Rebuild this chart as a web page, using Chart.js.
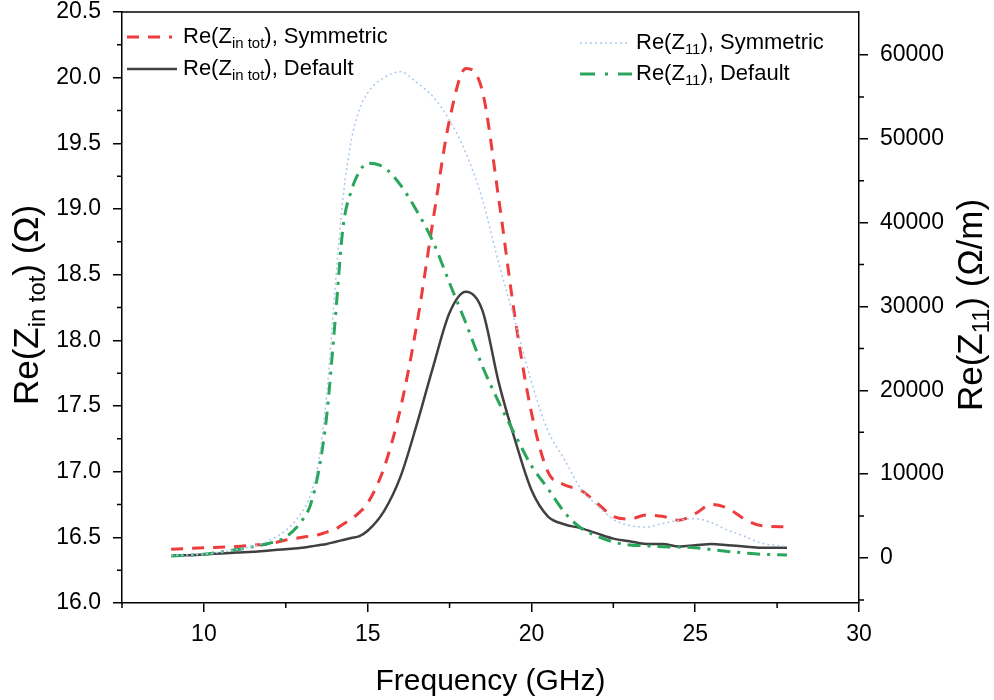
<!DOCTYPE html>
<html>
<head>
<meta charset="utf-8">
<script src="https://cdn.jsdelivr.net/npm/chart.js@4"></script>
<style>
  html, body { margin: 0; padding: 0; background: #fff; }
  #wrap { width: 994px; height: 700px; }
</style>
</head>
<body>
<div id="wrap"><canvas id="chart"></canvas></div>
<script>
// Frequency points (GHz), shared by all four curves
const freq = [9, 10, 11, 11.5, 12, 12.5, 13, 13.25, 13.5, 13.75, 14, 14.25, 14.5, 14.75, 15, 15.5, 16, 16.5, 17, 17.5,
              18, 18.5, 19, 19.5, 20, 20.5, 21, 21.5, 22, 22.5, 23, 23.5, 24, 24.5, 25, 25.5, 26, 26.5, 27, 27.8];

// Re(Z_in tot) in ohm (left axis)
const zinSym = [16.41, 16.42, 16.43, 16.44, 16.45, 16.48, 16.50, 16.51, 16.52, 16.54, 16.56, 16.60, 16.64, 16.69, 16.76, 17.03, 17.48, 18.12, 18.92, 19.68,
                20.07, 19.90, 19.08, 18.17, 17.45, 17.00, 16.90, 16.86, 16.76, 16.66, 16.64, 16.67, 16.66, 16.63, 16.68, 16.75, 16.72, 16.64, 16.59, 16.58];
const zinDef = [16.36, 16.37, 16.385, 16.39, 16.40, 16.41, 16.42, 16.43, 16.44, 16.45, 16.465, 16.48, 16.495, 16.51, 16.55, 16.70, 16.96, 17.36, 17.80, 18.21,
                18.37, 18.23, 17.68, 17.24, 16.86, 16.66, 16.60, 16.57, 16.53, 16.49, 16.47, 16.45, 16.45, 16.43, 16.44, 16.45, 16.44, 16.43, 16.42, 16.42];

// Re(Z_11) in ohm/m (right axis)
const z11Sym = [300, 450, 1000, 1400, 2100, 3300, 5500, 7500, 11500, 19500, 32000, 43000, 49800, 53500, 55500, 57300, 58000, 56700, 55000, 52200,
                48300, 42800, 35200, 28200, 21000, 15200, 11800, 8300, 6300, 4600, 3900, 3700, 4100, 4500, 4700, 4200, 3300, 2600, 1800, 1350];
const z11Def = [250, 450, 1000, 1350, 1750, 2500, 4500, 6300, 10300, 17000, 28000, 39500, 43800, 46100, 47100, 46600, 44500, 41400, 37700, 32800,
                28000, 22900, 18600, 14700, 11000, 8300, 5500, 3600, 2600, 1900, 1550, 1450, 1350, 1300, 1230, 1000, 780, 600, 450, 360];

// Tick values
const xTicks = [10, 15, 20, 25, 30];
const xMinor = [7.5, 12.5, 17.5, 22.5, 27.5];
const yLeftTicks = [16, 16.5, 17, 17.5, 18, 18.5, 19, 19.5, 20, 20.5];
const yLeftMinor = [16.25, 16.75, 17.25, 17.75, 18.25, 18.75, 19.25, 19.75, 20.25];
const yRightTicks = [0, 10000, 20000, 30000, 40000, 50000, 60000];
const yRightMinor = [-5000, 5000, 15000, 25000, 35000, 45000, 55000];

const FONT = "'Liberation Sans', Arial, sans-serif";
const RED = '#ee3b3b';
const BLACK = '#404040';
const BLUE = '#a9c8ef';
const GREEN = '#2aa55c';

const DASH_RED = [12, 9];
const DASH_BLUE = [2, 3];
const DASH_GREEN = [13, 7, 3, 7];

function pts(ys) {
    return freq.map((f, i) => ({ x: f, y: ys[i] }));
}

function drawRich(ctx, parts, x, y, size) {
    let cx = x;
    parts.forEach(p => {
        const s = p.sub ? size * 0.68 : size;
        ctx.font = s + 'px ' + FONT;
        ctx.fillText(p.t, cx, p.sub ? y + size * 0.3 : y);
        cx += ctx.measureText(p.t).width;
    });
    return cx - x;
}

function richWidth(ctx, parts, size) {
    let w = 0;
    parts.forEach(p => {
        ctx.font = (p.sub ? size * 0.68 : size) + 'px ' + FONT;
        w += ctx.measureText(p.t).width;
    });
    return w;
}

const legendItems = [
    { x: 127, y: 37, len: 45, color: RED, width: 3, dash: DASH_RED, parts: [{ t: 'Re(Z' }, { t: 'in tot', sub: true }, { t: '), Symmetric' }] },
    { x: 127, y: 69, len: 50, color: BLACK, width: 2.5, dash: [], parts: [{ t: 'Re(Z' }, { t: 'in tot', sub: true }, { t: '), Default' }] },
    { x: 580, y: 43, len: 47, color: BLUE, width: 1.5, dash: DASH_BLUE, parts: [{ t: 'Re(Z' }, { t: '11', sub: true }, { t: '), Symmetric' }] },
    { x: 580, y: 74, len: 52, color: GREEN, width: 3, dash: [15, 10, 3, 10], parts: [{ t: 'Re(Z' }, { t: '11', sub: true }, { t: '), Default' }] }
];

const decorPlugin = {
    id: 'decor',
    afterDraw(chart) {
        const { ctx, chartArea: a, scales } = chart;
        ctx.save();
        ctx.strokeStyle = '#000';
        ctx.lineWidth = 1.5;
        ctx.setLineDash([]);

        // top frame line
        ctx.beginPath();
        ctx.moveTo(a.left, a.top);
        ctx.lineTo(a.right, a.top);
        ctx.stroke();

        // minor ticks
        ctx.beginPath();
        xMinor.forEach(v => {
            const px = scales.x.getPixelForValue(v);
            ctx.moveTo(px, a.bottom);
            ctx.lineTo(px, a.bottom + 5);
        });
        yLeftMinor.forEach(v => {
            const py = scales.y.getPixelForValue(v);
            ctx.moveTo(a.left, py);
            ctx.lineTo(a.left - 5, py);
        });
        yRightMinor.forEach(v => {
            const py = scales.y1.getPixelForValue(v);
            ctx.moveTo(a.right, py);
            ctx.lineTo(a.right + 5, py);
        });
        ctx.stroke();

        // legends
        ctx.fillStyle = '#000';
        ctx.textBaseline = 'middle';
        ctx.textAlign = 'left';
        legendItems.forEach(it => {
            ctx.strokeStyle = it.color;
            ctx.lineWidth = it.width;
            ctx.setLineDash(it.dash);
            ctx.beginPath();
            ctx.moveTo(it.x, it.y);
            ctx.lineTo(it.x + it.len, it.y);
            ctx.stroke();
            ctx.setLineDash([]);
            drawRich(ctx, it.parts, it.x + 56, it.y, 22);
        });

        // rotated axis titles
        const leftTitle = [{ t: 'Re(Z' }, { t: 'in tot', sub: true }, { t: ') (Ω)' }];
        const rightTitle = [{ t: 'Re(Z' }, { t: '11', sub: true }, { t: ') (Ω/m)' }];
        [[leftTitle, 28, 305], [rightTitle, 972, 305]].forEach(([parts, cx, cy]) => {
            ctx.save();
            ctx.translate(cx, cy);
            ctx.rotate(-Math.PI / 2);
            const w = richWidth(ctx, parts, 35);
            drawRich(ctx, parts, -w / 2, 0, 35);
            ctx.restore();
        });
        ctx.restore();
    }
};

const tickFont = { family: FONT, size: 23 };

new Chart(document.getElementById('chart'), {
    type: 'line',
    data: {
        datasets: [
            { label: 'Re(Z11), Symmetric', data: pts(z11Sym), yAxisID: 'y1', borderColor: BLUE, borderWidth: 1.5, borderDash: DASH_BLUE },
            { label: 'Re(Z11), Default', data: pts(z11Def), yAxisID: 'y1', borderColor: GREEN, borderWidth: 3, borderDash: DASH_GREEN },
            { label: 'Re(Zin tot), Symmetric', data: pts(zinSym), yAxisID: 'y', borderColor: RED, borderWidth: 3, borderDash: DASH_RED },
            { label: 'Re(Zin tot), Default', data: pts(zinDef), yAxisID: 'y', borderColor: BLACK, borderWidth: 2.5 }
        ]
    },
    options: {
        responsive: true,
        maintainAspectRatio: false,
        animation: false,
        devicePixelRatio: 1,
        layout: { padding: { top: 12, left: 0, right: 0, bottom: 0 } },
        elements: {
            point: { radius: 0 },
            line: { cubicInterpolationMode: 'monotone', fill: false }
        },
        plugins: {
            legend: { display: false },
            tooltip: { enabled: false }
        },
        scales: {
            x: {
                type: 'linear',
                position: 'bottom',
                min: 7.5,
                max: 30,
                afterBuildTicks: s => { s.ticks = xTicks.map(v => ({ value: v })); },
                afterFit: s => { s.height = 97; s.paddingLeft = 0; s.paddingRight = 0; },
                ticks: { font: tickFont, color: '#000', padding: 9, maxRotation: 0 },
                grid: { drawOnChartArea: false, tickLength: 9, color: '#000', lineWidth: 1.5 },
                border: { color: '#000', width: 1.5 },
                title: { display: true, text: 'Frequency (GHz)', font: { family: FONT, size: 30 }, color: '#000', padding: { top: 0, bottom: 0 } }
            },
            y: {
                type: 'linear',
                position: 'left',
                min: 16,
                max: 20.5,
                afterBuildTicks: s => { s.ticks = yLeftTicks.map(v => ({ value: v })); },
                afterFit: s => { s.width = 122; s.paddingTop = 0; s.paddingBottom = 0; },
                ticks: { font: tickFont, color: '#000', padding: 12, callback: v => v.toFixed(1) },
                grid: { drawOnChartArea: false, tickLength: 9, color: '#000', lineWidth: 1.5 },
                border: { color: '#000', width: 1.5 }
            },
            y1: {
                type: 'linear',
                position: 'right',
                min: -5370,
                max: 65130,
                afterBuildTicks: s => { s.ticks = yRightTicks.map(v => ({ value: v })); },
                afterFit: s => { s.width = 135; s.paddingTop = 0; s.paddingBottom = 0; },
                ticks: { font: tickFont, color: '#000', padding: 12, callback: v => String(v) },
                grid: { drawOnChartArea: false, tickLength: 9, color: '#000', lineWidth: 1.5 },
                border: { color: '#000', width: 1.5 }
            }
        }
    },
    plugins: [decorPlugin]
});
</script>
</body>
</html>
